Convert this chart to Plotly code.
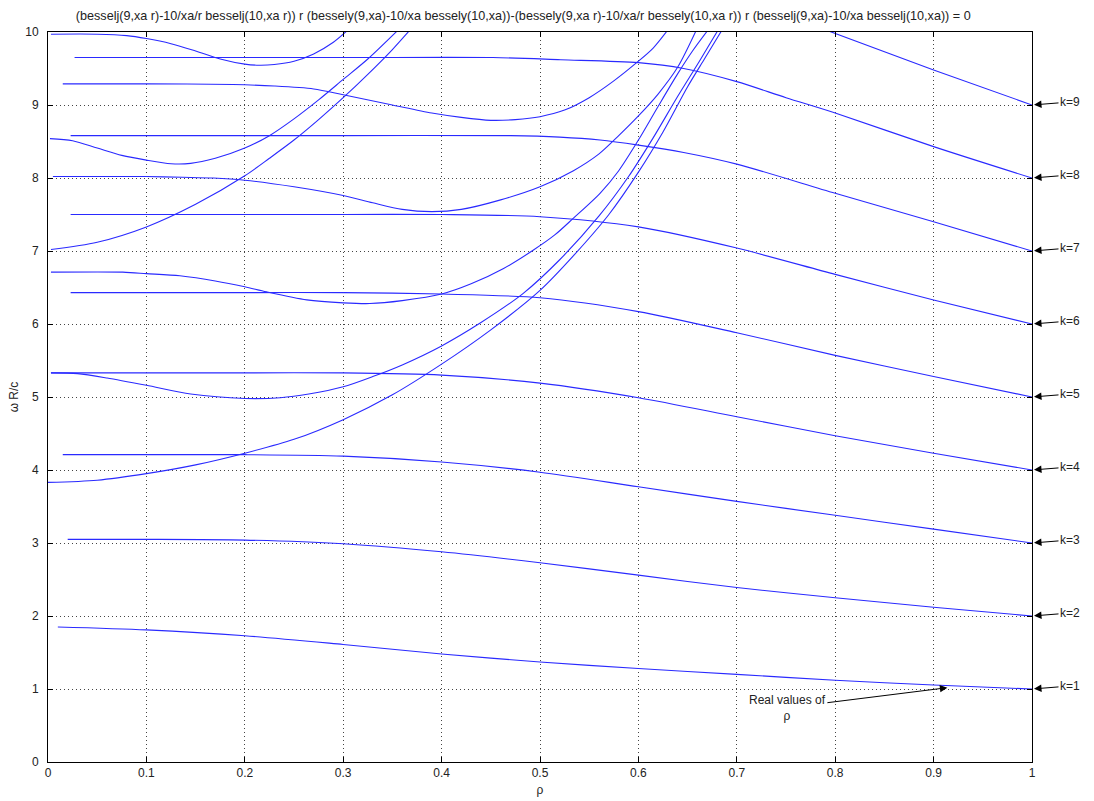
import plotly.graph_objects as go

# ---------------- data ----------------
# descending branches ending at k = 1..9 on rho = 1
rho_k1 = [0.01, 0.1, 0.2, 0.3, 0.4, 0.5, 0.6, 0.7, 0.8, 0.9, 1.0]
w_k1   = [1.85, 1.81, 1.73, 1.61, 1.48, 1.37, 1.28, 1.20, 1.12, 1.055, 1.0]

rho_k2 = [0.02, 0.1, 0.2, 0.3, 0.4, 0.5, 0.6, 0.7, 0.8, 0.9, 1.0]
w_k2   = [3.05, 3.05, 3.04, 2.99, 2.88, 2.73, 2.56, 2.39, 2.25, 2.12, 2.0]

rho_k3 = [0.015, 0.1, 0.2, 0.3, 0.4, 0.5, 0.6, 0.7, 0.8, 0.9, 1.0]
w_k3   = [4.21, 4.21, 4.21, 4.19, 4.11, 3.97, 3.77, 3.57, 3.38, 3.19, 3.0]

rho_k4 = [0.003, 0.1, 0.2, 0.3, 0.4, 0.5, 0.6, 0.7, 0.8, 0.9, 1.0]
w_k4   = [5.33, 5.33, 5.33, 5.33, 5.30, 5.19, 4.99, 4.73, 4.47, 4.23, 4.0]

rho_k5 = [0.023, 0.1, 0.2, 0.3, 0.4, 0.5, 0.6, 0.7, 0.8, 0.9, 1.0]
w_k5   = [6.43, 6.43, 6.43, 6.43, 6.41, 6.36, 6.17, 5.88, 5.57, 5.28, 5.0]

rho_k6 = [0.023, 0.1, 0.2, 0.3, 0.4, 0.5, 0.6, 0.7, 0.8, 0.9, 1.0]
w_k6   = [7.50, 7.50, 7.50, 7.50, 7.50, 7.47, 7.33, 7.04, 6.68, 6.33, 6.0]

rho_k7 = [0.023, 0.1, 0.3, 0.47, 0.52, 0.561, 0.6, 0.646, 0.7, 0.8, 0.9, 1.0]
w_k7   = [8.58, 8.58, 8.58, 8.58, 8.56, 8.52, 8.45, 8.35, 8.19, 7.79, 7.40, 7.0]

rho_k8 = [0.027, 0.3, 0.452, 0.521, 0.6, 0.646, 0.7, 0.75, 0.8, 0.9, 1.0]
w_k8   = [9.65, 9.65, 9.65, 9.62, 9.58, 9.50, 9.32, 9.10, 8.89, 8.43, 8.0]

rho_k9 = [0.79, 0.9, 1.0]
w_k9   = [10.03, 9.48, 9.0]

# branches that dip and then rise steeply out of the top of the plot
rho_r383 = [0.0, 0.05, 0.1, 0.15, 0.2, 0.25, 0.3, 0.35, 0.4, 0.45, 0.5, 0.535,
            0.570, 0.6, 0.625, 0.65, 0.668, 0.686]
w_r383   = [3.83, 3.86, 3.95, 4.07, 4.23, 4.42, 4.69, 5.03, 5.45, 5.92, 6.46, 6.95,
            7.5, 8.08, 8.63, 9.25, 9.65, 10.05]

rho_r533 = [0.003, 0.03, 0.06, 0.1, 0.145, 0.2, 0.236, 0.265, 0.3, 0.33, 0.36,
            0.4, 0.44, 0.483, 0.52, 0.56, 0.59, 0.615, 0.64, 0.662, 0.682]
w_r533   = [5.33, 5.32, 5.26, 5.16, 5.04, 4.98, 4.99, 5.04, 5.14, 5.28, 5.44,
            5.70, 6.02, 6.42, 6.88, 7.48, 8.02, 8.55, 9.12, 9.6, 10.05]

rho_r670 = [0.003, 0.076, 0.1, 0.134, 0.17, 0.2, 0.222, 0.263, 0.3, 0.327, 0.36,
            0.4, 0.43, 0.463, 0.493, 0.515, 0.534, 0.561, 0.58, 0.6, 0.62, 0.64,
            0.655, 0.672]
w_r670   = [6.71, 6.71, 6.69, 6.66, 6.59, 6.51, 6.44, 6.33, 6.29, 6.28, 6.32,
            6.41, 6.55, 6.76, 7.01, 7.22, 7.45, 7.79, 8.1, 8.52, 8.98, 9.43,
            9.74, 10.05]

rho_r700 = [0.003, 0.05, 0.1, 0.15, 0.2, 0.225, 0.25, 0.275, 0.3, 0.325, 0.35,
            0.368]
w_r700   = [7.02, 7.12, 7.33, 7.64, 8.03, 8.27, 8.52, 8.80, 9.10, 9.42, 9.76,
            10.03]

rho_r802 = [0.005, 0.05, 0.1, 0.137, 0.168, 0.2, 0.25, 0.3, 0.33, 0.36, 0.39,
            0.42, 0.46, 0.5, 0.534, 0.56, 0.58, 0.6, 0.62, 0.64, 0.659]
w_r802   = [8.02, 8.02, 8.02, 8.01, 8.0, 7.97, 7.88, 7.76, 7.66, 7.57, 7.54,
            7.57, 7.70, 7.88, 8.10, 8.33, 8.58, 8.85, 9.15, 9.52, 10.03]

rho_r854 = [0.002, 0.025, 0.05, 0.075, 0.1, 0.125, 0.145, 0.17, 0.2, 0.225,
            0.25, 0.275, 0.3, 0.325, 0.356]
w_r854   = [8.54, 8.51, 8.41, 8.31, 8.245, 8.195, 8.2, 8.27, 8.41, 8.58,
            8.81, 9.07, 9.35, 9.63, 10.03]

rho_r928 = [0.015, 0.1, 0.188, 0.23, 0.27, 0.3, 0.35, 0.39, 0.42, 0.45, 0.475,
            0.5, 0.525, 0.55, 0.575, 0.6, 0.615, 0.63]
w_r928   = [9.29, 9.29, 9.28, 9.26, 9.22, 9.14, 9.0, 8.89, 8.83, 8.79, 8.80,
            8.84, 8.93, 9.1, 9.33, 9.6, 9.78, 10.03]

rho_r996 = [0.003, 0.05, 0.08, 0.1, 0.125, 0.15, 0.175, 0.2, 0.215, 0.23,
            0.25, 0.27, 0.29, 0.305]
w_r996   = [9.97, 9.97, 9.95, 9.91, 9.84, 9.74, 9.63, 9.56, 9.545, 9.555,
            9.6, 9.7, 9.86, 10.03]

k_labels = ["k=1", "k=2", "k=3", "k=4", "k=5", "k=6", "k=7", "k=8", "k=9"]
k_values = [1, 2, 3, 4, 5, 6, 7, 8, 9]

x_ticks = [0, 0.1, 0.2, 0.3, 0.4, 0.5, 0.6, 0.7, 0.8, 0.9, 1.0]
x_tick_text = ["0", "0.1", "0.2", "0.3", "0.4", "0.5", "0.6", "0.7", "0.8", "0.9", "1"]
y_ticks = [0, 1, 2, 3, 4, 5, 6, 7, 8, 9, 10]

title_text = ("(besselj(9,xa r)-10/xa/r besselj(10,xa r)) r (bessely(9,xa)-10/xa bessely(10,xa))"
              "-(bessely(9,xa r)-10/xa/r bessely(10,xa r)) r (besselj(9,xa)-10/xa besselj(10,xa)) = 0")

# ---------------- figure ----------------
curves = [
    (rho_k1, w_k1), (rho_k2, w_k2), (rho_k3, w_k3), (rho_k4, w_k4), (rho_k5, w_k5),
    (rho_k6, w_k6), (rho_k7, w_k7), (rho_k8, w_k8), (rho_k9, w_k9),
    (rho_r383, w_r383), (rho_r533, w_r533), (rho_r670, w_r670), (rho_r700, w_r700),
    (rho_r802, w_r802), (rho_r854, w_r854), (rho_r928, w_r928), (rho_r996, w_r996),
]

fig = go.Figure()
for xs, ys in curves:
    fig.add_trace(go.Scatter(x=xs, y=ys, mode="lines",
                             line=dict(color="#2a2aff", width=1.1, shape="spline", smoothing=0.8),
                             hoverinfo="skip", showlegend=False))

FONT = "Liberation Sans, Arial, sans-serif"
annotations = []
for lab, kv in zip(k_labels, k_values):
    annotations.append(dict(x=1.0, y=kv, xref="x", yref="y", text=lab, showarrow=True,
                            ax=38, ay=-3, arrowhead=2, arrowsize=1.5, arrowwidth=1,
                            arrowcolor="black", standoff=2,
                            font=dict(family=FONT, size=12, color="#222")))
annotations.append(dict(x=0.914, y=1.018, xref="x", yref="y", text="Real values of<br>ρ",
                        showarrow=True, axref="pixel", ayref="pixel", ax=-160, ay=20,
                        arrowhead=2, arrowsize=1.5, arrowwidth=1, arrowcolor="black",
                        font=dict(family=FONT, size=12, color="#222"), align="center"))

fig.update_layout(
    template="none",
    width=1094, height=801,
    margin=dict(l=48, r=62, t=32, b=39, autoexpand=False),
    paper_bgcolor="white", plot_bgcolor="white",
    font=dict(family=FONT, size=12, color="#222"),
    title=dict(text=title_text, x=0.483, xref="paper", xanchor="center",
               y=1 - 16 / 801, yref="container", yanchor="middle",
               font=dict(family=FONT, size=12.6, color="#222")),
    annotations=annotations,
    showlegend=False,
)
fig.update_xaxes(range=[0, 1], tickvals=x_ticks, ticktext=x_tick_text, automargin=False,
                 showgrid=True, gridcolor="#444", griddash="1px,3px", gridwidth=1,
                 ticks="inside", ticklen=5, tickcolor="black", showline=True,
                 linecolor="black", linewidth=1, mirror="ticks", zeroline=False,
                 title=dict(text="ρ", font=dict(family=FONT, size=12), standoff=6))
fig.update_yaxes(range=[0, 10], tickvals=y_ticks, automargin=False,
                 showgrid=True, gridcolor="#444", griddash="1px,3px", gridwidth=1,
                 ticks="inside", ticklen=5, tickcolor="black", showline=True,
                 linecolor="black", linewidth=1, mirror="ticks", zeroline=False,
                 ticklabelstandoff=6,
                 title=dict(text="ω R/c", font=dict(family=FONT, size=12), standoff=4))

fig.write_html("out.html")
